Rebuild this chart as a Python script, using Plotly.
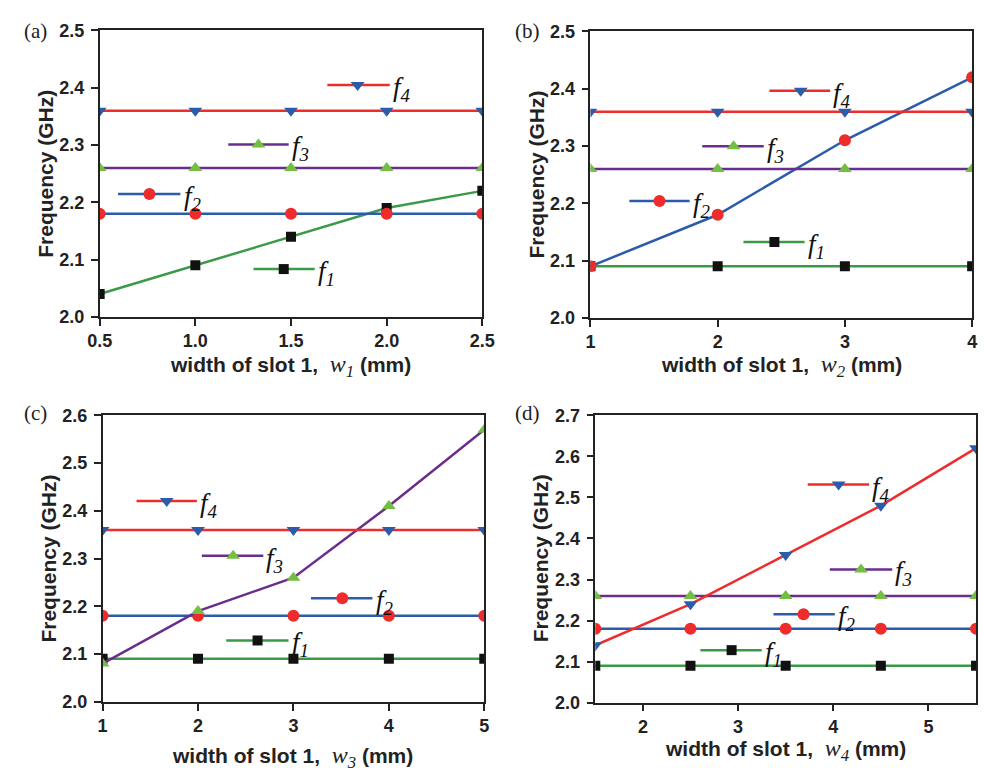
import plotly.graph_objects as go

# ---------------- data ----------------
xa = [0.5, 1.0, 1.5, 2.0, 2.5]
a_f1 = [2.04, 2.09, 2.14, 2.19, 2.22]
a_f2 = [2.18, 2.18, 2.18, 2.18, 2.18]
a_f3 = [2.26, 2.26, 2.26, 2.26, 2.26]
a_f4 = [2.36, 2.36, 2.36, 2.36, 2.36]

xb = [1, 2, 3, 4]
b_f1 = [2.09, 2.09, 2.09, 2.09]
b_f2 = [2.09, 2.18, 2.31, 2.42]
b_f3 = [2.26, 2.26, 2.26, 2.26]
b_f4 = [2.36, 2.36, 2.36, 2.36]

xc = [1, 2, 3, 4, 5]
c_f1 = [2.09, 2.09, 2.09, 2.09, 2.09]
c_f2 = [2.18, 2.18, 2.18, 2.18, 2.18]
c_f3 = [2.08, 2.19, 2.26, 2.41, 2.57]
c_f4 = [2.36, 2.36, 2.36, 2.36, 2.36]

xd = [1.5, 2.5, 3.5, 4.5, 5.5]
d_f1 = [2.09, 2.09, 2.09, 2.09, 2.09]
d_f2 = [2.18, 2.18, 2.18, 2.18, 2.18]
d_f3 = [2.26, 2.26, 2.26, 2.26, 2.26]
d_f4 = [2.14, 2.24, 2.36, 2.48, 2.62]

series_names = ["1", "2", "3", "4"]
panel_labels = ["(a)", "(b)", "(c)", "(d)"]
x_subscripts = ["1", "2", "3", "4"]

# ---------------- styles ----------------
STY = {
    "1": dict(line="#3a9a47", mcol="#111111", sym="square", msize=10),
    "2": dict(line="#2b5caa", mcol="#ee2c2c", sym="circle", msize=12),
    "3": dict(line="#6b2d8b", mcol="#72bf44", sym="triangle-up", msize=12),
    "4": dict(line="#ee2c2c", mcol="#2c5ca8", sym="triangle-down", msize=12),
}

SANS = "Liberation Sans, Arial, sans-serif"
SERIF = "Liberation Serif, Times New Roman, serif"

panels = [
    dict(x=xa, ys=[a_f1, a_f2, a_f3, a_f4], xr=[0.5, 2.5], yr=[2.0, 2.5],
         xt=[0.5, 1.0, 1.5, 2.0, 2.5], xfmt=".1f", yt=[2.0, 2.1, 2.2, 2.3, 2.4, 2.5],
         dom_px=(89, 482, 21, 315),
         leg={"4": (0.595, 0.758, 0.674, 0.810), "3": (0.336, 0.494, 0.415, 0.602),
              "2": (0.048, 0.211, 0.130, 0.429), "1": (0.402, 0.562, 0.481, 0.167)},
         lab_px=(23, 22), xt_px=(285, 365), yt_px=(34, 168)),
    dict(x=xb, ys=[b_f1, b_f2, b_f3, b_f4], xr=[1, 4], yr=[2.0, 2.5],
         xt=[1, 2, 3, 4], xfmt="d", yt=[2.0, 2.1, 2.2, 2.3, 2.4, 2.5],
         dom_px=(593, 985, 22, 316),
         leg={"4": (0.469, 0.628, 0.551, 0.793), "3": (0.293, 0.454, 0.375, 0.599),
              "2": (0.102, 0.260, 0.181, 0.408), "1": (0.401, 0.561, 0.482, 0.265)},
         lab_px=(528, 22), xt_px=(789, 365), yt_px=(538, 169)),
    dict(x=xc, ys=[c_f1, c_f2, c_f3, c_f4], xr=[1, 5], yr=[2.0, 2.6],
         xt=[1, 2, 3, 4, 5], xfmt="d", yt=[2.0, 2.1, 2.2, 2.3, 2.4, 2.5, 2.6],
         dom_px=(92, 484, 416, 710),
         leg={"4": (0.089, 0.247, 0.168, 0.701), "3": (0.260, 0.421, 0.342, 0.510),
              "2": (0.546, 0.707, 0.628, 0.361), "1": (0.324, 0.487, 0.406, 0.214)},
         lab_px=(23, 414), xt_px=(287, 767), yt_px=(37, 563)),
    dict(x=xd, ys=[d_f1, d_f2, d_f3, d_f4], xr=[1.5, 5.5], yr=[2.0, 2.7],
         xt=[2, 3, 4, 5], xfmt="d", yt=[2.0, 2.1, 2.2, 2.3, 2.4, 2.5, 2.6, 2.7],
         dom_px=(598, 989, 416, 711),
         leg={"4": (0.558, 0.719, 0.639, 0.759), "3": (0.616, 0.780, 0.698, 0.464),
              "2": (0.468, 0.629, 0.547, 0.308), "1": (0.276, 0.437, 0.358, 0.183)},
         lab_px=(528, 414), xt_px=(793, 760), yt_px=(542, 563)),
]

W, H = 990, 779
fig = go.Figure()
layout = dict(width=W, height=H, margin=dict(l=0, r=0, t=0, b=0),
              paper_bgcolor="white", plot_bgcolor="white", showlegend=False)
annotations = []

for i, p in enumerate(panels):
    n = i + 1
    xn = "x" if n == 1 else f"x{n}"
    yn = "y" if n == 1 else f"y{n}"
    ox, oy = f"x{n+4}", f"y{n+4}"
    x0, x1, y0, y1 = p["dom_px"]
    xdom = [x0 / W, x1 / W]
    ydom = [1 - y1 / H, 1 - y0 / H]
    axfont = dict(family=SANS, size=18, color="#222", weight="bold")
    layout[f"xaxis{'' if n == 1 else n}"] = dict(
        domain=xdom, anchor=yn, range=p["xr"], tickvals=p["xt"], tickformat=p["xfmt"],
        showline=True, linecolor="#222", linewidth=1.5, mirror=True, ticks="outside",
        ticklen=7, tickwidth=1.5, tickcolor="#222", showgrid=False, zeroline=False,
        tickfont=axfont)
    layout[f"yaxis{'' if n == 1 else n}"] = dict(
        domain=ydom, anchor=xn, range=p["yr"], tickvals=p["yt"], tickformat=".1f",
        showline=True, linecolor="#222", linewidth=1.5, mirror=True, ticks="outside",
        ticklen=7, tickwidth=1.5, tickcolor="#222", showgrid=False, zeroline=False,
        tickfont=axfont, ticklabelstandoff=3)
    layout[f"xaxis{n+4}"] = dict(overlaying=xn, range=[0, 1], visible=False)
    layout[f"yaxis{n+4}"] = dict(overlaying=yn, range=[0, 1], visible=False)

    # data traces
    for k, yv in zip(series_names, p["ys"]):
        s = STY[k]
        fig.add_trace(go.Scatter(
            x=p["x"], y=yv, xaxis=xn, yaxis=yn, mode="lines+markers",
            line=dict(color=s["line"], width=2.5),
            marker=dict(symbol=s["sym"], size=s["msize"], color=s["mcol"], line=dict(width=0)),
            cliponaxis=True))

    # legend keys (inline, in axis-domain space)
    for k in series_names:
        s = STY[k]
        lx0, lx1, mx, ly = p["leg"][k]
        fig.add_trace(go.Scatter(
            x=[lx0, lx1], y=[ly, ly], xaxis=ox, yaxis=oy, mode="lines",
            line=dict(color=s["line"], width=2.5), cliponaxis=False, hoverinfo="skip"))
        fig.add_trace(go.Scatter(
            x=[mx], y=[ly], xaxis=ox, yaxis=oy, mode="markers",
            marker=dict(symbol=s["sym"], size=s["msize"], color=s["mcol"], line=dict(width=0)),
            cliponaxis=False, hoverinfo="skip"))
        annotations.append(dict(
            xref=ox, yref=oy, x=lx1 + 0.003, y=ly,
            text=f"<i>f</i><sub><i>{k}</i></sub>", showarrow=False,
            xanchor="left", yanchor="middle", yshift=-4,
            font=dict(family=SERIF, size=27, color="#111")))

    # panel label
    lx, ly = p["lab_px"]
    annotations.append(dict(xref="paper", yref="paper", x=lx / W, y=1 - ly / H,
                            text=panel_labels[i], showarrow=False,
                            xanchor="center", yanchor="middle",
                            font=dict(family=SERIF, size=21, color="#222")))
    # x title
    tx, ty = p["xt_px"]
    annotations.append(dict(
        xref="paper", yref="paper", x=tx / W, y=1 - ty / H, showarrow=False,
        xanchor="center", yanchor="middle",
        text=("width of slot 1,\u00a0\u00a0<span style='font-family:Liberation Serif;"
              "font-style:italic;font-weight:normal;font-size:24px'>w<sub>"
              + x_subscripts[i] + "</sub></span> (mm)"),
        font=dict(family=SANS, size=21, color="#222", weight="bold")))
    # y title
    yx, yy = p["yt_px"]
    annotations.append(dict(
        xref="paper", yref="paper", x=yx / W, y=1 - yy / H, showarrow=False,
        xanchor="center", yanchor="middle", textangle=-90,
        text="Frequency (GHz)",
        font=dict(family=SANS, size=21, color="#222", weight="bold")))

layout["annotations"] = annotations
fig.update_layout(**layout)
fig.write_html("out.html")
